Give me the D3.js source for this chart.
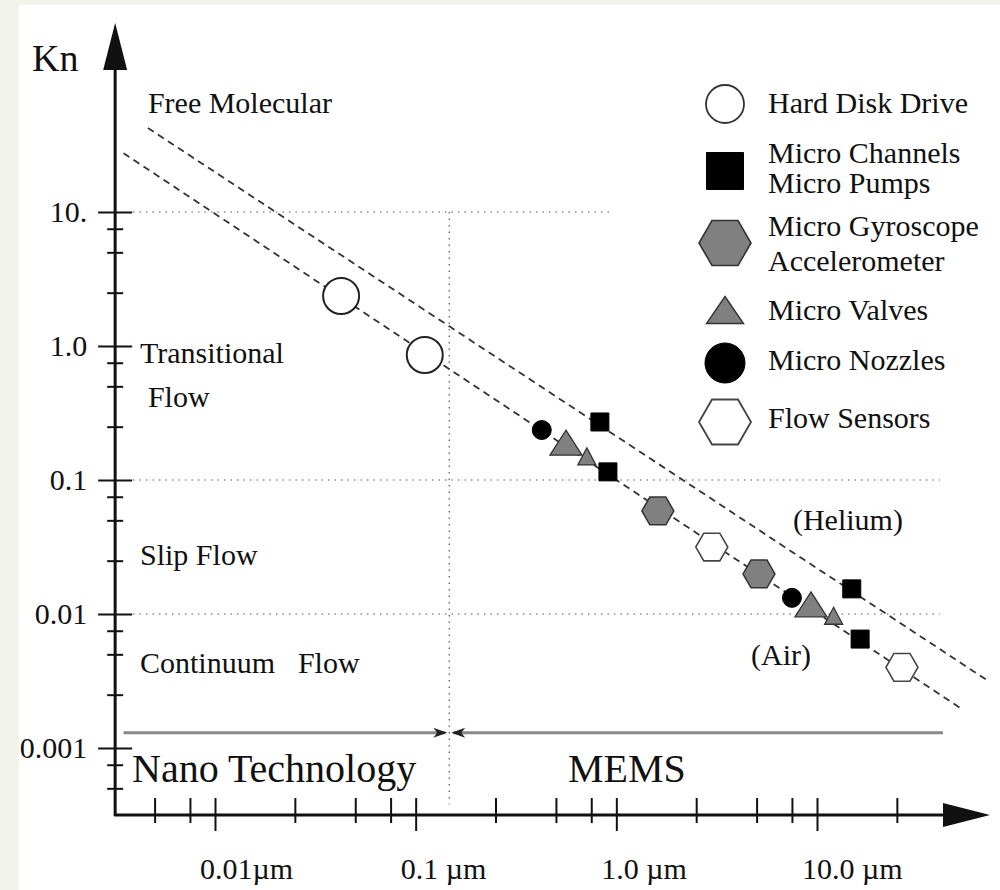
<!DOCTYPE html>
<html><head><meta charset="utf-8">
<script src="https://cdn.jsdelivr.net/npm/d3@7"></script>
<style>body{margin:0;background:#fff}</style>
</head><body><svg id="c" width="1000" height="890"></svg>
<script>
// ---------------- data ----------------
const yTickValues = [10, 1, 0.1, 0.01, 0.001];
const yTickLabels = ["10.", "1.0", "0.1", "0.01", "0.001"];
const yMinorTicks = [7.5, 5, 2.5, 0.75, 0.5, 0.25, 0.075, 0.05, 0.025, 0.0075, 0.005, 0.0025, 0.00075, 0.0005];
const xTickValues = [0.01, 0.1, 1, 10];
const xTickLabels = ["0.01µm", "0.1 µm", "1.0 µm", "10.0 µm"];
const xMinorTicks = [0.005, 0.0075, 0.025, 0.05, 0.075, 0.25, 0.5, 0.75, 2.5, 5, 7.5, 25];

// device series: characteristic length (µm) and Knudsen number
const hddL = [0.0425, 0.111];            const hddKn = [2.36, 0.857];
const channelsL = [0.828, 0.908, 14.9, 16.4]; const channelsKn = [0.271, 0.115, 0.0154, 0.0065];
const gyroL = [1.61, 5.14];              const gyroKn = [0.0588, 0.0199];
const valvesL = [0.561, 0.713, 9.33, 12.1];   const valvesKn = [0.19, 0.15, 0.0118, 0.0097];
const nozzlesL = [0.425, 7.5];           const nozzlesKn = [0.236, 0.0132];
const sensorsL = [2.99, 26.5];           const sensorsKn = [0.0316, 0.0040];

// dashed gas lines (endpoints)
const airLineL = [0.0035, 51.5];   const airLineKn = [27.5, 0.002];
const heliumLineL = [0.00463, 70.3]; const heliumLineKn = [42.4, 0.00321];

// grid lines
const gridKn = [10, 0.1, 0.01];
const gridFromL = [0.0039, 0.0039, 0.0039];
const gridToL = [0.95, 40.9, 40.9];
const dividerL = 0.147;          // nano / MEMS boundary
const dividerKn = [10, 0.00038];
const barKn = 0.0013;            // nano / MEMS bar
const barL = [0.0035, 42.4];

const legendLabels = [["Hard Disk Drive"], ["Micro Channels", "Micro Pumps"], ["Micro Gyroscope", "Accelerometer"], ["Micro Valves"], ["Micro Nozzles"], ["Flow Sensors"]];
const regionLabels = ["Free Molecular", "Transitional", "Flow", "Slip Flow", "Continuum", "Flow", "(Helium)", "(Air)"];
const regionL = [0.00463, 0.00423, 0.00463, 0.00423, 0.00423, 0.0259, 7.59, 4.69];
const regionKn = [54.8, 0.746, 0.351, 0.0232, 0.00363, 0.00363, 0.0424, 0.00416];

// ---------------- layout ----------------
const FONT = '"Liberation Serif","Times New Roman",serif';
const INK = "#111";
const FS = 30;
const svg = d3.select("#c");

// page frame
svg.append("rect").attr("width", 1000).attr("height", 890).attr("fill", "#f2f3ea");
svg.append("rect").attr("x", 19).attr("y", 5).attr("width", 981).attr("height", 885).attr("fill", "#fff");

const x = d3.scaleLog().domain([0.01, 10]).range([215, 817]);
const y = d3.scaleLog().domain([10, 0.001]).range([212, 748]);
const xOrigin = 0.00318, yOrigin = 0.000316;
const X0 = x(xOrigin), Y0 = y(yOrigin);
const xEnd = 943, xTip = 990, yEnd = 70, yTip = 23;

// grid (dotted)
const grid = svg.append("g").attr("stroke", "#555").attr("stroke-width", 1.2).attr("stroke-dasharray", "1.5,5").attr("fill", "none");
gridKn.forEach((k, i) => grid.append("line")
  .attr("x1", x(gridFromL[i])).attr("x2", x(gridToL[i])).attr("y1", y(k)).attr("y2", y(k)));
grid.append("line").attr("x1", x(dividerL)).attr("x2", x(dividerL)).attr("y1", y(dividerKn[0])).attr("y2", y(dividerKn[1]));

// nano / MEMS bar
const by = y(barKn), bx = x(dividerL);
svg.append("line").attr("x1", x(barL[0])).attr("x2", bx - 4).attr("y1", by).attr("y2", by).attr("stroke", "#888").attr("stroke-width", 3);
svg.append("line").attr("x1", bx + 4).attr("x2", x(barL[1])).attr("y1", by).attr("y2", by).attr("stroke", "#888").attr("stroke-width", 3);
svg.append("path").attr("fill", "#222")
  .attr("d", `M${bx-2},${by} L${bx-16},${by-5} L${bx-12},${by} L${bx-16},${by+5} Z`);
svg.append("path").attr("fill", "#222")
  .attr("d", `M${bx+2},${by} L${bx+16},${by-5} L${bx+12},${by} L${bx+16},${by+5} Z`);

// dashed gas lines
const line = d3.line().x(d => x(d[0])).y(d => y(d[1]));
[[airLineL, airLineKn], [heliumLineL, heliumLineKn]].forEach(([L, K]) =>
  svg.append("path").datum(L.map((l, i) => [l, K[i]])).attr("d", line)
    .attr("fill", "none").attr("stroke", "#333").attr("stroke-width", 1.8).attr("stroke-dasharray", "7,5"));

// axes lines
svg.append("line").attr("x1", X0).attr("x2", X0).attr("y1", Y0 + 1).attr("y2", yEnd).attr("stroke", "#111").attr("stroke-width", 3);
svg.append("line").attr("x1", X0 - 1).attr("x2", xEnd).attr("y1", Y0).attr("y2", Y0).attr("stroke", "#111").attr("stroke-width", 3);
svg.append("path").attr("fill", "#111").attr("d", `M${X0},${yTip} L${X0-12},${yEnd} L${X0+12},${yEnd} Z`);
svg.append("path").attr("fill", "#111").attr("d", `M${xTip},${Y0} L${xEnd},${Y0-12} L${xEnd},${Y0+12} Z`);

function styleAxis(g) {
  g.select(".domain").remove();
  g.selectAll(".tick line").attr("stroke", "#111").attr("stroke-width", 2);
}
// y ticks
svg.append("g").attr("transform", `translate(${X0},0)`)
  .call(d3.axisLeft(y).tickValues(yTickValues).tickSize(17).tickPadding(11).tickFormat((d, i) => yTickLabels[i]))
  .call(styleAxis)
  .call(g => g.selectAll("text").attr("font-family", FONT).attr("font-size", FS).attr("fill", INK));
svg.append("g").attr("transform", `translate(${X0},0)`)
  .call(d3.axisRight(y).tickValues(yTickValues).tickSize(17).tickFormat("")).call(styleAxis);
svg.append("g").attr("transform", `translate(${X0},0)`)
  .call(d3.axisLeft(y).tickValues(yMinorTicks).tickSize(8).tickFormat("")).call(styleAxis);
svg.append("g").attr("transform", `translate(${X0},0)`)
  .call(d3.axisRight(y).tickValues(yMinorTicks).tickSize(8).tickFormat("")).call(styleAxis);
// x ticks
svg.append("g").attr("transform", `translate(0,${Y0})`)
  .call(d3.axisBottom(x).tickValues(xTickValues).tickSize(16).tickFormat("")).call(styleAxis);
svg.append("g").attr("transform", `translate(0,${Y0})`)
  .call(d3.axisTop(x).tickValues(xTickValues).tickSize(17).tickFormat("")).call(styleAxis);
svg.append("g").attr("transform", `translate(0,${Y0})`)
  .call(d3.axisBottom(x).tickValues(xMinorTicks).tickSize(8).tickFormat("")).call(styleAxis);
svg.append("g").attr("transform", `translate(0,${Y0})`)
  .call(d3.axisTop(x).tickValues(xMinorTicks).tickSize(17).tickFormat("")).call(styleAxis);
svg.append("g").selectAll("text").data(xTickValues).join("text")
  .attr("x", d => x(d) - 15).attr("y", Y0 + 64)
  .attr("font-family", FONT).attr("font-size", FS).attr("fill", INK)
  .text((d, i) => xTickLabels[i]);

// axis titles / section titles
svg.append("text").attr("x", 32).attr("y", 71).attr("font-family", FONT).attr("font-size", 38).attr("fill", INK).text("Kn");
svg.append("text").attr("x", x(0.00386)).attr("y", y(0.000557)).attr("font-family", FONT).attr("font-size", 40).attr("fill", INK).text("Nano Technology");
svg.append("text").attr("x", x(0.574)).attr("y", y(0.000557)).attr("font-family", FONT).attr("font-size", 40).attr("fill", INK).text("MEMS");

// region labels
svg.append("g").selectAll("text").data(regionLabels).join("text")
  .attr("x", (d, i) => x(regionL[i])).attr("y", (d, i) => y(regionKn[i]))
  .attr("font-family", FONT).attr("font-size", FS).attr("fill", INK).text(d => d);

// symbols
const GRAY = "#808080";
function hexPath(R) {
  const p = d3.range(6).map(k => [R * Math.cos(k * Math.PI / 3), R * Math.sin(k * Math.PI / 3)]);
  return "M" + p.map(q => q.join(",")).join("L") + "Z";
}
function triPath(w, h) { return `M0,${-h/2}L${w/2},${h/2}L${-w/2},${h/2}Z`; }
function sqPath(s) { return `M${-s/2},${-s/2}h${s}v${s}h${-s}Z`; }
function circPath(r) { return `M${r},0A${r},${r} 0 1,1 ${-r},0A${r},${r} 0 1,1 ${r},0Z`; }

const plotSym = {
  hdd:      { d: () => circPath(18), fill: "#fff", stroke: "#222", sw: 2 },
  nozzles:  { d: () => circPath(9.5), fill: "#000", stroke: "#000", sw: 1 },
  valves:   { d: i => (i % 2 === 0 ? triPath(32, 25) : triPath(18, 17)), fill: GRAY, stroke: "#333", sw: 1.3 },
  gyro:     { d: () => hexPath(16), fill: GRAY, stroke: "#333", sw: 1.5 },
  sensors:  { d: () => hexPath(16), fill: "#fff", stroke: "#444", sw: 1.6 },
  channels: { d: () => sqPath(18), fill: "#000", stroke: "#000", sw: 1 }
};
const series = [
  ["hdd", hddL, hddKn], ["nozzles", nozzlesL, nozzlesKn], ["valves", valvesL, valvesKn],
  ["gyro", gyroL, gyroKn], ["sensors", sensorsL, sensorsKn], ["channels", channelsL, channelsKn]
];
series.forEach(([key, L, K]) => {
  const s = plotSym[key];
  svg.append("g").selectAll("path").data(L).join("path")
    .attr("transform", (d, i) => `translate(${x(d)},${y(K[i])})`)
    .attr("d", (d, i) => s.d(i)).attr("fill", s.fill).attr("stroke", s.stroke).attr("stroke-width", s.sw);
});

// legend
const legSym = [
  { d: circPath(19), fill: "#fff", stroke: "#333", sw: 1.8 },
  { d: sqPath(37), fill: "#000", stroke: "#000", sw: 1 },
  { d: hexPath(26), fill: GRAY, stroke: "#333", sw: 1.6 },
  { d: triPath(37, 27), fill: GRAY, stroke: "#333", sw: 1.4 },
  { d: circPath(20), fill: "#000", stroke: "#000", sw: 1 },
  { d: hexPath(26), fill: "#fff", stroke: "#444", sw: 1.8 }
];
const legSymX = 725, legTextX = 768;
const legSymY = [104, 171, 243, 310, 363, 422];
const legBase = [[113], [163, 193], [236, 271], [320], [370], [428]];
legendLabels.forEach((lines, i) => {
  const s = legSym[i];
  svg.append("path").attr("transform", `translate(${legSymX},${legSymY[i]})`)
    .attr("d", s.d).attr("fill", s.fill).attr("stroke", s.stroke).attr("stroke-width", s.sw);
  lines.forEach((t, j) => svg.append("text").attr("x", legTextX).attr("y", legBase[i][j])
    .attr("font-family", FONT).attr("font-size", FS).attr("fill", INK).text(t));
});
</script></body></html>
